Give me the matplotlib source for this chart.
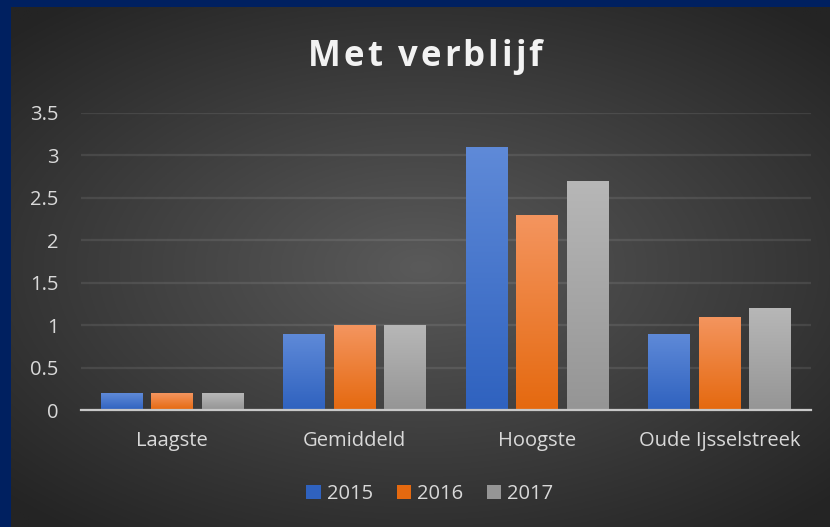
import numpy as np
import matplotlib.pyplot as plt
from matplotlib.patches import Patch
from matplotlib.textpath import TextPath
from matplotlib.font_manager import FontProperties

categories = ["Laagste", "Gemiddeld", "Hoogste", "Oude Ijsselstreek"]
years = ["2015", "2016", "2017"]
v2015 = [0.2, 0.9, 3.1, 0.9]
v2016 = [0.2, 1.0, 2.3, 1.1]
v2017 = [0.2, 1.0, 2.7, 1.2]
yticks = [0, 0.5, 1, 1.5, 2, 2.5, 3, 3.5]
title = "Met verblijf"

# top / bottom colours of each bar gradient
cols = [("#5f8ad8", "#2f62bf"), ("#f4955f", "#e5690f"), ("#b7b7b7", "#959595")]

plt.rcParams['font.family'] = ['Open Sans', 'DejaVu Sans']

fig = plt.figure(figsize=(8.3, 5.27), dpi=100)
fig.patch.set_facecolor("#002060")

# dark panel with radial gradient
bg = fig.add_axes([11 / 830, 0, 1 - 11 / 830, 1 - 7 / 527])
bg.set_axis_off()
yy, xx = np.mgrid[-1:1:300j, -1:1:400j]
r = np.sqrt((xx * 0.95) ** 2 + (yy * 1.05) ** 2)
r = np.clip(r / 1.35, 0, 1)
c0 = np.array([0x5a, 0x5a, 0x5a]) / 255
c1 = np.array([0x24, 0x24, 0x24]) / 255
img = c0[None, None, :] * (1 - r[..., None]) + c1[None, None, :] * r[..., None]
bg.imshow(img, aspect="auto", extent=[0, 1, 0, 1])

ax = fig.add_axes([81 / 830, 1 - 410 / 527, 730 / 830, (410 - 113) / 527])
ax.set_facecolor("none")
x = np.arange(len(categories))
w = 0.23
step = 0.277
series = [v2015, v2016, v2017]
for i, vals in enumerate(series):
    bars = ax.bar(x + (i - 1) * step, vals, width=w, color=cols[i][1], zorder=3)
    grad = np.linspace(0, 1, 100)[:, None]
    top = np.array(plt.matplotlib.colors.to_rgb(cols[i][0]))
    bot = np.array(plt.matplotlib.colors.to_rgb(cols[i][1]))
    for b in bars:
        bx, by = b.get_x(), b.get_y()
        bw, bh = b.get_width(), b.get_height()
        g = top[None, None, :] * (1 - grad[..., None]) + bot[None, None, :] * grad[..., None]
        im = ax.imshow(g, aspect="auto", extent=[bx, bx + bw, by, by + bh], zorder=4)
        im.set_clip_path(b)

ax.set_xlim(-0.5, len(categories) - 0.5)
ax.set_ylim(0, 3.5)
ax.set_yticks(yticks)
ax.set_yticklabels(["0", "0.5", "1", "1.5", "2", "2.5", "3", "3.5"])
ax.set_xticks(x)
ax.set_xticklabels(categories)
ax.grid(axis="y", color="white", alpha=0.09, linewidth=1.6, zorder=0)
for s in ["top", "right", "left"]:
    ax.spines[s].set_visible(False)
ax.spines["bottom"].set_color("#c8c8c8")
ax.spines["bottom"].set_linewidth(1.6)
ax.spines["bottom"].set_zorder(5)
ax.tick_params(length=0, colors="#d9d9d9", labelsize=14.5)
ax.tick_params(axis="x", pad=15)
ax.tick_params(axis="y", pad=16)

# title with a little letter spacing, drawn one glyph at a time
fp = FontProperties(family="Open Sans", weight="bold", size=25)
px = 100 / 72
adv = []
for c in title:
    tp = TextPath((0, 0), c + "|", prop=fp)
    bar_w = TextPath((0, 0), "|", prop=fp)
    adv.append((tp.vertices[:, 0].max() - bar_w.vertices[:, 0].max()) * px)
spacing = 3.0
total = sum(adv) + spacing * (len(title) - 1)
xpos = 425 - total / 2
for c, a in zip(title, adv):
    fig.text(xpos / 830, 1 - 57 / 527, c, ha="left", va="center", color="#f2f2f2",
             fontproperties=fp)
    xpos += a + spacing

handles = [Patch(facecolor=cols[i][1], label=years[i]) for i in range(3)]
fig.legend(handles=handles, loc="center", bbox_to_anchor=(430 / 830, 1 - 494 / 527),
           ncol=3, frameon=False, fontsize=14.5, labelcolor="#d9d9d9",
           handlelength=0.7, handleheight=0.7, handletextpad=0.3, columnspacing=1.2)

fig.savefig("out.png", dpi=100)
